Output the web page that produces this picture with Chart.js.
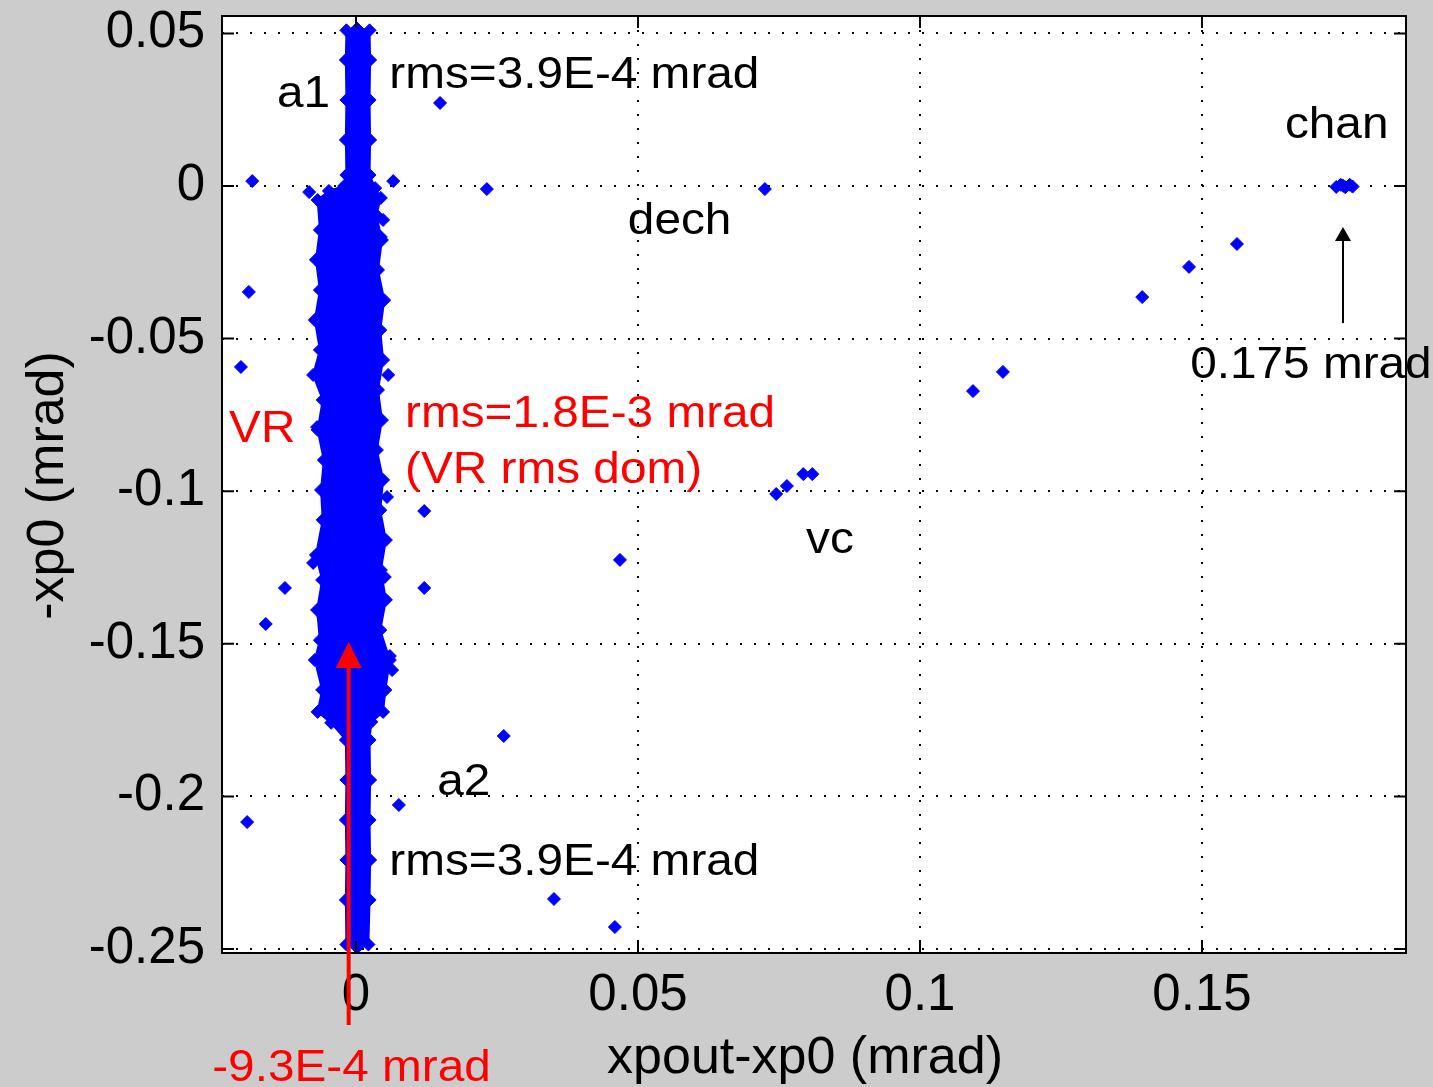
<!DOCTYPE html>
<html>
<head>
<meta charset="utf-8">
<script src="https://cdn.jsdelivr.net/npm/chart.js@4.4.0/dist/chart.umd.min.js"></script>
<style>
  html, body { margin: 0; padding: 0; background: #cccccc; }
  #wrap { width: 1433px; height: 1087px; }
</style>
</head>
<body>
<div id="wrap"><canvas id="scatter" width="1433" height="1087"></canvas></div>
<script>
// axis ticks (mrad)
const xTicks = [0, 0.05, 0.1, 0.15];
const xTickLabels = ['0', '0.05', '0.1', '0.15'];
const yTicks = [-0.25, -0.2, -0.15, -0.1, -0.05, 0, 0.05];
const yTickLabels = ['-0.25', '-0.2', '-0.15', '-0.1', '-0.05', '0', '0.05'];

// outline of the dense band (a1 on top, VR in the middle, a2 below)
const coreX = [0.0002, 0.0024, 0.0025, 0.0024, 0.0025, 0.0024, 0.0034, 0.0044, 0.0036, 0.0046,
  0.0039, 0.0050, 0.0043, 0.0048, 0.0039, 0.0046, 0.0037, 0.0048, 0.0043, 0.0053,
  0.0044, 0.0053, 0.0043, 0.0060, 0.0052, 0.0048, 0.0027, 0.0024, 0.0025, 0.0024,
  0.0025, 0.0024, 0.0022, 0.0002, -0.0017, -0.0018, -0.0017, -0.0018, -0.0017, -0.0018,
  -0.0044, -0.0068, -0.0060, -0.0073, -0.0064, -0.0069, -0.0060, -0.0071, -0.0059, -0.0062,
  -0.0057, -0.0068, -0.0059, -0.0076, -0.0064, -0.0073, -0.0064, -0.0071, -0.0064, -0.0068,
  -0.0048, -0.0021, -0.0017, -0.0018, -0.0017, -0.0018, -0.0017, 0.0002];
const coreY = [0.0515, 0.0510, 0.0413, 0.0282, 0.0151, 0.0036, -0.0007, -0.0039, -0.0095, -0.0177,
  -0.0275, -0.0374, -0.0472, -0.0570, -0.0668, -0.0767, -0.0865, -0.0963, -0.1062, -0.1160,
  -0.1258, -0.1356, -0.1455, -0.1553, -0.1651, -0.1723, -0.1756, -0.1815, -0.1946, -0.2077,
  -0.2208, -0.2339, -0.2485, -0.2495, -0.2485, -0.2339, -0.2208, -0.2077, -0.1946, -0.1815,
  -0.1759, -0.1723, -0.1651, -0.1553, -0.1488, -0.1389, -0.1291, -0.1209, -0.1094, -0.0996,
  -0.0898, -0.0799, -0.0701, -0.0619, -0.0537, -0.0439, -0.0341, -0.0242, -0.0144, -0.0046,
  -0.0016, 0.0000, 0.0036, 0.0151, 0.0282, 0.0413, 0.0510, 0.0515];

// isolated events (dech, vc, chan and scattered ones)
const sparseX = [0.0149, -0.0184, -0.0083, 0.0066, 0.0232, 0.0725, -0.0190, -0.0204, -0.0126, -0.0160,
  0.0121, 0.0121, 0.0468, 0.0745, 0.0764, 0.0793, 0.0809, 0.1094, 0.1147, 0.1394,
  0.1477, 0.1562, 0.1738, 0.1746, 0.1754, 0.1762, 0.1767, 0.1750, -0.0193, 0.0076,
  0.0262, 0.0351, 0.0459, 0.0048, 0.0044, -0.0076, 0.0060, 0.0064, -0.0069, 0.0057,
  0.0055, 0.0051];
const sparseY = [0.0272, 0.0016, -0.0020, 0.0016, -0.0010, -0.0010, -0.0347, -0.0593, -0.1317, -0.1435,
  -0.1065, -0.1317, -0.1225, -0.1009, -0.0983, -0.0944, -0.0944, -0.0672, -0.0609, -0.0364,
  -0.0265, -0.0190, -0.0003, 0.0004, -0.0004, 0.0004, -0.0002, 0.0001, -0.2084, -0.2028,
  -0.1802, -0.2336, -0.2428, -0.0111, -0.0167, -0.1235, -0.1540, -0.1586, -0.0790, -0.0619,
  -0.1019, -0.1281];

// text notes, anchored at their left baseline (data coordinates)
const noteText = ['a1', 'rms=3.9E-4 mrad', 'chan', 'dech', '0.175 mrad', 'VR', 'rms=1.8E-3 mrad',
  '(VR rms dom)', 'vc', 'a2', 'rms=3.9E-4 mrad', '-9.3E-4 mrad'];
const noteX = [-0.0140, 0.0059, 0.1647, 0.0482, 0.1479, -0.0225, 0.0087, 0.0087, 0.0798, 0.0144, 0.0059, -0.0255];
const noteY = [0.0259, 0.0321, 0.0157, -0.0157, -0.0629, -0.0839, -0.0790, -0.0973, -0.1202, -0.1995, -0.2258, -0.2933];
const noteColor = ['#000', '#000', '#000', '#000', '#000', '#f00', '#f00', '#f00', '#000', '#000', '#000', '#f00'];

// arrows: x position, tail y, tip y
const arrowX = [-0.0013, 0.175];
const arrowFrom = [-0.2749, -0.0449];
const arrowTo = [-0.1494, -0.0134];
const arrowColor = ['#f00', '#000'];

const FONT = "'Liberation Sans', Arial, Helvetica, sans-serif";

const matlabFrame = {
  id: 'matlabFrame',
  beforeDraw(chart) {
    const { ctx, chartArea: a } = chart;
    ctx.save();
    ctx.fillStyle = '#cccccc';
    ctx.fillRect(0, 0, chart.width, chart.height);
    ctx.fillStyle = '#ffffff';
    ctx.fillRect(a.left, a.top, a.right - a.left, a.bottom - a.top);
    ctx.restore();
  },
  afterDraw(chart) {
    const { ctx, chartArea: a, scales } = chart;
    const sx = scales.x, sy = scales.y;
    ctx.save();

    // box + inward ticks
    ctx.strokeStyle = '#000';
    ctx.lineWidth = 2;
    ctx.strokeRect(a.left, a.top, a.right - a.left, a.bottom - a.top);
    ctx.beginPath();
    xTicks.forEach(v => {
      const px = sx.getPixelForValue(v);
      ctx.moveTo(px, a.bottom); ctx.lineTo(px, a.bottom - 12);
      ctx.moveTo(px, a.top); ctx.lineTo(px, a.top + 12);
    });
    yTicks.forEach(v => {
      const py = sy.getPixelForValue(v);
      ctx.moveTo(a.left, py); ctx.lineTo(a.left + 12, py);
      ctx.moveTo(a.right, py); ctx.lineTo(a.right - 12, py);
    });
    ctx.stroke();

    // axis titles
    ctx.fillStyle = '#000';
    ctx.font = '52px ' + FONT;
    ctx.textAlign = 'center';
    ctx.textBaseline = 'alphabetic';
    ctx.fillText('xpout-xp0 (mrad)', (a.left + a.right) / 2 - 9, 1073);
    ctx.save();
    ctx.translate(63, (a.top + a.bottom) / 2 + 1);
    ctx.rotate(-Math.PI / 2);
    ctx.fillText('-xp0 (mrad)', 0, 0);
    ctx.restore();

    // arrows
    arrowX.forEach((v, i) => {
      const px = sx.getPixelForValue(v);
      const y0 = sy.getPixelForValue(arrowFrom[i]);
      const y1 = sy.getPixelForValue(arrowTo[i]);
      const red = i === 0;
      const hw = red ? 13 : 8, hl = red ? 26 : 14;
      ctx.strokeStyle = arrowColor[i];
      ctx.fillStyle = arrowColor[i];
      ctx.lineWidth = red ? 4 : 2;
      ctx.beginPath();
      ctx.moveTo(px, y0);
      ctx.lineTo(px, y1 + hl - 2);
      ctx.stroke();
      ctx.beginPath();
      ctx.moveTo(px, y1);
      ctx.lineTo(px - hw, y1 + hl);
      ctx.lineTo(px + hw, y1 + hl);
      ctx.closePath();
      ctx.fill();
    });

    // notes
    ctx.font = '44px ' + FONT;
    ctx.textAlign = 'left';
    ctx.textBaseline = 'alphabetic';
    noteText.forEach((t, i) => {
      ctx.save();
      ctx.translate(sx.getPixelForValue(noteX[i]), sy.getPixelForValue(noteY[i]));
      ctx.scale(1.085, 1);
      ctx.fillStyle = noteColor[i];
      ctx.fillText(t, 0, 0);
      ctx.restore();
    });
    ctx.restore();
  }
};

function fixAxis(size, vertical) {
  return scale => {
    if (vertical) scale.width = size; else scale.height = size;
    scale.paddingTop = 0; scale.paddingBottom = 0;
    scale.paddingLeft = 0; scale.paddingRight = 0;
  };
}

new Chart(document.getElementById('scatter'), {
  type: 'scatter',
  data: {
    datasets: [{
      type: 'line',
      label: 'core',
      data: coreX.map((x, i) => ({ x: x, y: coreY[i] })),
      borderColor: '#0000ff',
      backgroundColor: '#0000ff',
      borderWidth: 2,
      fill: 'shape',
      tension: 0,
      pointStyle: 'rectRot',
      pointRadius: 6.5,
      pointBackgroundColor: '#0000ff',
      pointBorderColor: '#0000ff',
      pointBorderWidth: 1
    }, {
      label: 'events',
      data: sparseX.map((x, i) => ({ x: x, y: sparseY[i] })),
      pointStyle: 'rectRot',
      pointRadius: 6.5,
      backgroundColor: '#0000ff',
      borderColor: '#0000ff',
      borderWidth: 1
    }]
  },
  options: {
    responsive: false,
    animation: false,
    layout: { padding: { top: 16, right: 27, left: 0, bottom: 0 } },
    plugins: {
      legend: { display: false },
      tooltip: { enabled: false }
    },
    scales: {
      x: {
        type: 'linear',
        min: -0.02376,
        max: 0.18617,
        afterBuildTicks: s => { s.ticks = xTicks.map(v => ({ value: v })); },
        afterFit: fixAxis(134, false),
        ticks: {
          autoSkip: false,
          maxRotation: 0,
          padding: 12,
          color: '#000',
          font: { family: FONT, size: 51 },
          callback: (v, i) => xTickLabels[i]
        },
        grid: { color: '#000', lineWidth: 2, drawTicks: false },
        border: { display: false, dash: [2, 12] }
      },
      y: {
        type: 'linear',
        min: -0.2513,
        max: 0.0557,
        afterBuildTicks: s => { s.ticks = yTicks.map(v => ({ value: v })); },
        afterFit: fixAxis(222, true),
        ticks: {
          autoSkip: false,
          padding: 17,
          color: '#000',
          font: { family: FONT, size: 51 },
          callback: (v, i) => yTickLabels[i]
        },
        grid: { color: '#000', lineWidth: 2, drawTicks: false },
        border: { display: false, dash: [2, 12] }
      }
    }
  },
  plugins: [matlabFrame]
});
</script>
</body>
</html>
